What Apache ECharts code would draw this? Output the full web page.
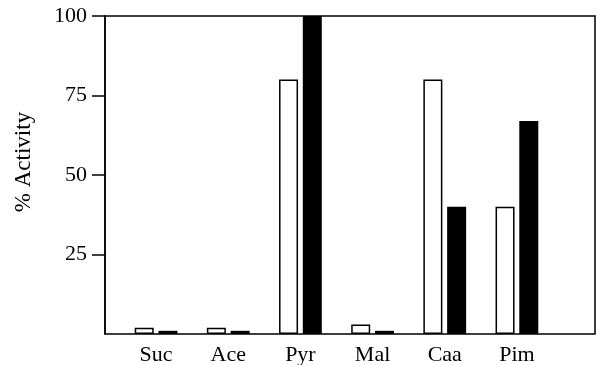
<!DOCTYPE html>
<html>
<head>
<meta charset="utf-8">
<script src="https://cdn.jsdelivr.net/npm/echarts@6/dist/echarts.min.js"></script>
<style>
html,body{margin:0;padding:0;background:#fff;}
#chart{width:597px;height:365px;}
</style>
</head>
<body>
<div id="chart"></div>
<script>
const categories = ['Suc', 'Ace', 'Pyr', 'Mal', 'Caa', 'Pim'];
const openValues = [2, 2, 80, 3, 80, 40];
const filledValues = [1, 1, 100, 1, 40, 67];
const yTicks = [25, 50, 75, 100];

const font = 'Liberation Serif';
const chart = echarts.init(document.getElementById('chart'));
chart.setOption({
  animation: false,
  backgroundColor: '#fff',
  grid: [
    {left: 105, right: 2, top: 16, bottom: 31, show: true, borderColor: '#000', borderWidth: 1.5, backgroundColor: 'transparent', containLabel: false, outerBoundsMode: 'none'},
    {left: 120, right: 44, top: 16, bottom: 31, containLabel: false, outerBoundsMode: 'none'}
  ],
  xAxis: [
    {type: 'category', gridIndex: 0, data: categories, show: false},
    {type: 'category', gridIndex: 1, data: categories,
     axisLine: {show: false}, axisTick: {show: false},
     axisLabel: {color: '#000', fontFamily: font, fontSize: 22, margin: 10}}
  ],
  yAxis: [
    {type: 'value', gridIndex: 0, min: 0, max: 100, interval: 25,
     splitLine: {show: false},
     axisLine: {show: true, lineStyle: {color: '#000', width: 1.5}},
     axisTick: {show: true, length: 13, lineStyle: {color: '#000', width: 1.5}, customValues: yTicks},
     axisLabel: {color: '#000', fontFamily: font, fontSize: 22, margin: 18, customValues: yTicks},
     name: '% Activity', nameLocation: 'middle', nameGap: 70,
     nameTextStyle: {color: '#000', fontFamily: font, fontSize: 23, padding: [0, 0, 0, 26]}},
    {type: 'value', gridIndex: 1, min: 0, max: 100, show: false}
  ],
  series: [
    {type: 'bar', xAxisIndex: 1, yAxisIndex: 1, data: openValues, barWidth: 19, barGap: '25%',
     itemStyle: {color: '#fff', borderColor: '#000', borderWidth: 1.5}},
    {type: 'bar', xAxisIndex: 1, yAxisIndex: 1, data: filledValues, barWidth: 19, barGap: '25%',
     itemStyle: {color: '#000'}}
  ]
});
</script>
</body>
</html>
